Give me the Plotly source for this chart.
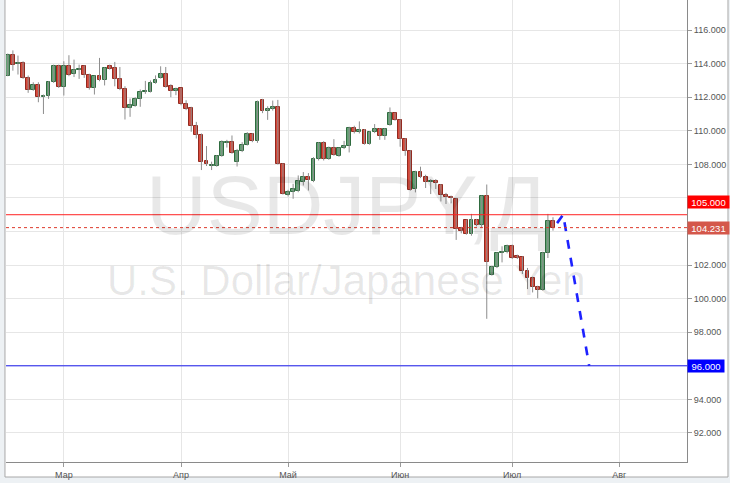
import pandas as pd
import plotly.graph_objects as go

# ---------------- data (daily USD/JPY candles) ----------------
start_date = "2016-02-15"

opens = [113.29, 114.50, 113.98, 114.04, 113.15, 112.44, 112.75, 112.02, 112.06, 112.91,
         113.88, 112.59, 113.88, 113.37, 113.60, 113.84, 113.35, 112.55, 113.25, 113.05,
         113.88, 113.75, 113.11, 112.51, 111.37, 111.49, 111.92, 112.30, 112.32, 112.85,
         113.15, 113.41, 112.65, 112.38, 112.53, 111.58, 111.33, 110.30, 109.74, 108.20,
         107.92, 107.90, 108.50, 109.30, 109.36, 108.13, 108.77, 109.18, 109.82, 109.38,
         111.84, 111.15, 111.29, 111.40, 108.03, 106.20, 106.35, 106.44, 106.94, 107.24,
         107.00, 108.29, 109.26, 108.33, 108.95, 108.51, 108.97, 109.07, 110.16, 109.90,
         110.06, 109.21, 109.90, 110.10, 109.66, 110.36, 111.03, 110.63, 109.50, 108.81,
         106.53, 107.52, 107.26, 106.92, 107.02, 106.79, 106.19, 106.08, 105.96, 104.22,
         104.66, 103.87, 104.70, 104.36, 106.10, 101.41, 101.90, 102.70, 102.76, 103.16,
         102.54, 102.46, 101.63, 101.23, 100.71, 100.51, 102.70, 104.65]
highs = [114.60, 114.79, 114.48, 114.14, 113.29, 112.89, 112.89, 112.16, 112.95, 113.94,
         113.94, 114.14, 114.50, 114.24, 113.94, 113.90, 113.40, 113.29, 114.34, 113.78,
         113.94, 114.10, 113.80, 112.65, 111.92, 112.00, 112.46, 112.97, 113.00, 113.30,
         113.84, 113.80, 112.77, 112.57, 112.57, 111.82, 111.43, 110.53, 109.84, 109.09,
         108.16, 108.55, 109.43, 109.46, 109.72, 108.92, 109.32, 109.92, 109.86, 111.80,
         111.90, 111.46, 111.80, 111.84, 108.07, 106.48, 106.84, 107.34, 107.54, 107.48,
         108.43, 109.32, 109.38, 109.06, 109.50, 109.00, 109.40, 110.24, 110.30, 110.56,
         110.10, 109.96, 110.40, 110.16, 110.16, 111.39, 111.09, 110.69, 109.56, 108.85,
         107.62, 107.86, 107.38, 107.12, 107.12, 106.83, 106.30, 106.14, 106.00, 104.28,
         104.71, 105.05, 104.75, 106.14, 106.80, 101.96, 102.76, 103.12, 103.22, 103.22,
         102.62, 102.52, 101.83, 101.31, 100.77, 102.80, 105.05, 104.85]
lows = [113.25, 113.58, 113.35, 113.09, 112.26, 112.38, 111.70, 111.00, 111.90, 112.85,
        112.55, 112.10, 113.25, 113.20, 113.09, 113.15, 112.45, 112.16, 112.95, 112.70,
        113.64, 112.65, 112.42, 110.67, 110.83, 111.43, 111.43, 112.20, 112.28, 112.80,
        113.11, 112.57, 112.00, 112.12, 111.52, 111.23, 109.94, 109.54, 107.66, 107.90,
        107.66, 107.86, 108.45, 109.00, 108.63, 107.87, 108.73, 109.12, 109.32, 109.28,
        111.05, 110.65, 111.20, 107.99, 106.20, 106.09, 105.95, 106.34, 106.74, 106.44,
        106.94, 108.23, 108.23, 108.27, 108.51, 108.45, 108.91, 108.71, 109.84, 109.84,
        109.17, 109.17, 109.86, 109.46, 109.46, 110.30, 110.60, 109.05, 108.51, 106.43,
        106.33, 107.18, 106.59, 106.23, 106.53, 105.79, 105.64, 105.68, 103.50, 103.89,
        103.81, 103.75, 104.31, 104.25, 98.80, 101.37, 101.82, 102.16, 102.70, 102.36,
        102.36, 101.47, 100.57, 100.37, 100.02, 100.47, 102.42, 104.05]
closes = [114.50, 113.94, 114.04, 113.13, 112.45, 112.75, 112.00, 112.10, 112.91, 113.88,
          112.59, 113.88, 113.35, 113.60, 113.70, 113.35, 112.55, 113.25, 113.05, 113.72,
          113.70, 113.11, 112.51, 111.37, 111.52, 111.92, 112.32, 112.36, 112.87, 113.00,
          113.41, 112.61, 112.36, 112.51, 111.58, 111.29, 110.30, 109.74, 108.16, 108.00,
          107.95, 108.50, 109.35, 109.36, 108.69, 108.77, 109.18, 109.82, 109.38, 111.74,
          111.15, 111.31, 111.40, 108.03, 106.25, 106.38, 106.54, 106.98, 107.24, 107.04,
          108.33, 109.26, 108.33, 108.98, 108.55, 108.95, 109.11, 110.16, 109.90, 110.06,
          109.21, 109.90, 110.10, 109.66, 110.10, 111.03, 110.63, 109.50, 108.81, 106.47,
          107.52, 107.26, 106.92, 107.02, 106.86, 106.19, 106.04, 105.98, 104.15, 104.02,
          103.87, 104.70, 104.36, 106.10, 102.20, 101.90, 102.70, 102.78, 103.16, 102.42,
          102.42, 101.63, 101.21, 100.71, 100.51, 102.70, 104.65, 104.23]

month_starts = ["2016-03-01", "2016-04-01", "2016-05-01", "2016-06-01", "2016-07-01", "2016-08-01"]
month_labels = ["Мар", "Апр", "Май", "Июн", "Июл", "Авг"]

price_ticks = [92, 94, 96, 98, 100, 102, 104, 106, 108, 110, 112, 114, 116]
price_tick_labels = ["92.000", "94.000", "", "98.000", "100.000", "102.000", "",
                     "", "108.000", "110.000", "112.000", "114.000", "116.000"]

level_resistance = 105.0      # red horizontal line
level_last = 104.231          # last price (dotted)
level_target = 96.0           # blue target line

# forecast path (trading-day position, price)
forecast_pos = [107.8, 109.0, 114.1]
forecast_val = [104.5, 105.0, 96.0]

title_text = "USDJPY,Д"
subtitle_text = "U.S. Dollar/Japanese Yen"

# ---------------- build ----------------
days = pd.bdate_range(start_date, periods=150)
n = len(opens)
xs = list(range(n))
tickvals = [int((days >= pd.Timestamp(m)).argmax()) for m in month_starts]

up = [c >= o for o, c in zip(opens, closes)]
body_base = [min(o, c) for o, c in zip(opens, closes)]
body_h = [max(abs(c - o), 0.04) for o, c in zip(opens, closes)]
fill = ["#62a173" if u else "#d8483a" for u in up]
edge = ["#2f6b3f" if u else "#922a20" for u in up]

wx, wy = [], []
for i in xs:
    wx += [i, i, None]
    wy += [lows[i], highs[i], None]

fig = go.Figure()
fig.add_trace(go.Scatter(x=wx, y=wy, mode="lines",
                         line=dict(color="#8d8d8d", width=1), hoverinfo="skip"))
fig.add_trace(go.Bar(x=xs, y=body_h, base=body_base, width=0.76,
                     marker=dict(color=fill, line=dict(color=edge, width=1))))
fig.add_trace(go.Scatter(x=forecast_pos, y=forecast_val, mode="lines",
                         line=dict(color="#1e22ff", width=2.6, dash="dash")))

FONT = "Liberation Sans, Arial, sans-serif"

fig.update_layout(
    width=730, height=483,
    margin=dict(l=6, r=43, t=0, b=21),
    paper_bgcolor="#edf1f4",
    plot_bgcolor="rgba(0,0,0,0)",
    showlegend=False,
    bargap=0,
    xaxis=dict(range=[-0.35, 133.3], tickvals=tickvals, ticktext=month_labels,
               showgrid=True, gridcolor="#e6e6e6", gridwidth=1, zeroline=False,
               ticks="outside", ticklen=4, tickcolor="#9a9a9a",
               showline=True, linecolor="#8a8a8a", linewidth=1,
               tickfont=dict(family=FONT, size=9, color="#555555")),
    yaxis=dict(side="right", range=[90.27, 117.79], tickvals=price_ticks, ticktext=price_tick_labels,
               showgrid=True, gridcolor="#e6e6e6", gridwidth=1, zeroline=False,
               ticks="outside", ticklen=4, tickcolor="#9a9a9a",
               showline=True, linecolor="#8a8a8a", linewidth=1,
               tickfont=dict(family=FONT, size=9, color="#555555")),
)

# outer white frame
fig.add_shape(type="rect", xref="paper", yref="paper", x0=-0.0015, x1=1.0602, y0=-0.0325, y1=1.01,
              fillcolor="#ffffff", line=dict(color="#a8a8a8", width=1), layer="below")

# level lines
fig.add_shape(type="line", xref="paper", yref="y", x0=0, x1=1, y0=level_resistance, y1=level_resistance,
              line=dict(color="#ff2020", width=1))
fig.add_shape(type="line", xref="paper", yref="y", x0=0, x1=1, y0=level_last, y1=level_last,
              line=dict(color="#dd3a2c", width=1, dash="dot"))
fig.add_shape(type="line", xref="paper", yref="y", x0=0, x1=1, y0=level_target, y1=level_target,
              line=dict(color="#1a1aee", width=1))

# watermark
fig.add_annotation(text=title_text, xref="paper", yref="paper", x=0.5, y=0.556,
                   xanchor="center", yanchor="middle", showarrow=False,
                   font=dict(family=FONT, size=84, color="rgba(0,0,0,0.09)"))
fig.add_annotation(text=subtitle_text, xref="paper", yref="paper", x=0.5, y=0.392,
                   xanchor="center", yanchor="middle", showarrow=False,
                   font=dict(family=FONT, size=42, color="rgba(0,0,0,0.09)"))

# price labels on the right axis
def price_label(val, bg, width, yshift=0):
    fig.add_annotation(text=f"{val:.3f}", xref="paper", yref="y", x=1, y=val,
                       xanchor="left", yanchor="middle", showarrow=False, yshift=yshift,
                       width=width, height=10, borderpad=1, bgcolor=bg, align="center",
                       font=dict(family=FONT, size=9.5, color="#ffffff"))

price_label(level_resistance, "#ff0000", 39, yshift=12.5)
price_label(level_last, "#d4574a", 39)
price_label(level_target, "#0000ff", 34)

fig.write_html("out.html", config={"displayModeBar": False},
               post_script="document.body.style.margin='0px';document.body.style.padding='0px';")
